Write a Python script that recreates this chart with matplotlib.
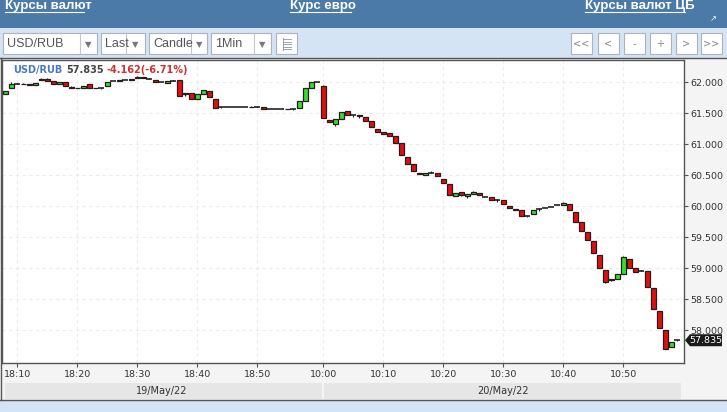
import matplotlib
matplotlib.use("Agg")
import matplotlib.pyplot as plt
from matplotlib.patches import Rectangle, Polygon
from matplotlib.lines import Line2D

# ---------------- data ----------------
opens = [61.80, 61.90, 61.97, 61.97, 61.96, 61.95, 62.03, 62.05, 62.01, 61.97,
         62.00, 61.92, 61.91, 61.91, 61.96, 61.91, 61.90, 61.93, 62.02, 62.02,
         62.03, 62.04, 62.06, 62.08, 62.05, 62.03, 62.00, 61.99, 62.02, 62.03,
         61.80, 61.82, 61.73, 61.80, 61.85, 61.72, 61.59, 61.59, 61.59, 61.59,
         61.59, 61.59, 61.60, 61.60, 61.57, 61.57, 61.57, 61.57, 61.56, 61.58,
         61.70, 61.90, 62.00, 61.94, 61.38, 61.32, 61.41, 61.53, 61.46, 61.46,
         61.44, 61.37, 61.25, 61.20, 61.17, 61.13, 61.01, 60.79, 60.67, 60.54,
         60.50, 60.53, 60.54, 60.44, 60.35, 60.16, 60.22, 60.16, 60.20, 60.21,
         60.14, 60.14, 60.10, 60.10, 60.00, 59.95, 59.94, 59.84, 59.87, 59.95,
         59.97, 59.99, 60.01, 60.02, 60.04, 59.91, 59.74, 59.58, 59.44, 59.21,
         58.96, 58.80, 58.82, 58.91, 59.14, 59.00, 58.95, 58.95, 58.67, 58.31,
         58.00, 57.72, 57.83]
closes = [61.86, 61.97, 61.97, 61.96, 61.95, 61.99, 62.05, 62.02, 61.97, 62.00,
          61.93, 61.91, 61.90, 61.94, 61.91, 61.90, 61.90, 62.00, 62.02, 62.03,
          62.03, 62.05, 62.08, 62.06, 62.05, 62.00, 62.00, 62.02, 62.02, 61.77,
          61.82, 61.73, 61.80, 61.87, 61.76, 61.58, 61.59, 61.59, 61.59, 61.59,
          61.59, 61.60, 61.60, 61.57, 61.57, 61.57, 61.57, 61.56, 61.56, 61.70,
          61.90, 62.00, 62.00, 61.42, 61.35, 61.40, 61.51, 61.47, 61.46, 61.45,
          61.37, 61.27, 61.20, 61.16, 61.13, 61.01, 60.83, 60.67, 60.56, 60.51,
          60.53, 60.53, 60.48, 60.37, 60.17, 60.21, 60.18, 60.20, 60.22, 60.17,
          60.14, 60.10, 60.10, 60.03, 59.96, 59.93, 59.84, 59.84, 59.94, 59.95,
          59.97, 59.99, 60.01, 60.05, 59.94, 59.75, 59.59, 59.45, 59.24, 59.00,
          58.78, 58.82, 58.90, 59.17, 59.00, 58.94, 58.95, 58.70, 58.34, 58.03,
          57.70, 57.80, 57.835]
highs = [61.86, 62.00, 61.98, 61.98, 61.96, 61.99, 62.07, 62.07, 62.01, 62.00,
         62.00, 61.93, 61.91, 61.94, 61.96, 61.91, 61.91, 62.00, 62.02, 62.03,
         62.04, 62.05, 62.09, 62.08, 62.06, 62.03, 62.00, 62.02, 62.03, 62.03,
         61.82, 61.82, 61.80, 61.87, 61.85, 61.72, 61.59, 61.59, 61.59, 61.59,
         61.59, 61.61, 61.61, 61.60, 61.57, 61.57, 61.57, 61.57, 61.56, 61.70,
         61.90, 62.00, 62.00, 61.95, 61.38, 61.40, 61.51, 61.54, 61.47, 61.46,
         61.44, 61.37, 61.25, 61.20, 61.18, 61.13, 61.01, 60.79, 60.67, 60.54,
         60.53, 60.56, 60.54, 60.44, 60.35, 60.21, 60.23, 60.20, 60.25, 60.21,
         60.14, 60.14, 60.11, 60.10, 60.00, 59.95, 59.94, 59.84, 59.94, 59.96,
         59.97, 59.99, 60.01, 60.06, 60.04, 59.91, 59.74, 59.58, 59.44, 59.21,
         58.96, 58.82, 58.90, 59.19, 59.14, 59.00, 58.96, 58.95, 58.67, 58.31,
         58.00, 57.80, 57.84]
lows = [61.80, 61.90, 61.96, 61.96, 61.95, 61.95, 62.03, 62.02, 61.97, 61.97,
        61.93, 61.91, 61.90, 61.91, 61.91, 61.90, 61.89, 61.93, 62.01, 62.02,
        62.03, 62.04, 62.06, 62.06, 62.05, 62.00, 62.00, 61.99, 62.02, 61.77,
        61.78, 61.73, 61.73, 61.80, 61.76, 61.58, 61.58, 61.59, 61.59, 61.59,
        61.59, 61.59, 61.60, 61.57, 61.57, 61.57, 61.57, 61.56, 61.55, 61.58,
        61.70, 61.90, 62.00, 61.42, 61.35, 61.29, 61.41, 61.47, 61.43, 61.42,
        61.37, 61.27, 61.20, 61.16, 61.13, 61.01, 60.83, 60.67, 60.56, 60.51,
        60.50, 60.53, 60.48, 60.37, 60.17, 60.16, 60.16, 60.13, 60.20, 60.17,
        60.14, 60.10, 60.07, 60.03, 59.96, 59.93, 59.84, 59.83, 59.87, 59.92,
        59.97, 59.99, 60.01, 60.02, 59.94, 59.75, 59.59, 59.45, 59.24, 59.00,
        58.76, 58.79, 58.82, 58.91, 59.00, 58.94, 58.95, 58.70, 58.34, 58.03,
        57.70, 57.72, 57.83]

tick_index = [2, 12, 22, 32, 42, 53, 63, 73, 83, 93, 103]
tick_labels = ["18:10", "18:20", "18:30", "18:40", "18:50", "10:00",
               "10:10", "10:20", "10:30", "10:40", "10:50"]
y_ticks = [58.0, 58.5, 59.0, 59.5, 60.0, 60.5, 61.0, 61.5, 62.0]
date_labels = ["19/May/22", "20/May/22"]
symbol = "USD/RUB"
last_price = "57.835"
change_text = "-4.162(-6.71%)"
header_links = ["Курсы валют", "Курс евро", "Курсы валют ЦБ"]
tool_boxes = ["USD/RUB", "Last", "Candle", "1Min"]
nav_buttons = ["<<", "<", "-", "+", ">", ">>"]

# ---------------- figure ----------------
W, H = 727, 412
fig = plt.figure(figsize=(W / 100, H / 100), dpi=100)
fig.patch.set_facecolor("#f4f4f4")

def fx(x):
    return x / W

def fy(y):
    return 1 - y / H

def rect(x0, y0, x1, y1, fc, ec="none", lw=0.0, z=-2):
    fig.patches.append(Rectangle((fx(x0), fy(y1)), (x1 - x0) / W, (y1 - y0) / H,
                                 transform=fig.transFigure, facecolor=fc,
                                 edgecolor=ec, linewidth=lw, zorder=z))

def hline(x0, x1, y, color, lw=1.0, z=-1):
    fig.lines.append(Line2D([fx(x0), fx(x1)], [fy(y), fy(y)], transform=fig.transFigure,
                            color=color, linewidth=lw, zorder=z))

def vline(x, y0, y1, color, lw=1.0, z=-1):
    fig.lines.append(Line2D([fx(x), fx(x)], [fy(y0), fy(y1)], transform=fig.transFigure,
                            color=color, linewidth=lw, zorder=z))

narrow = ["Liberation Sans Narrow", "Liberation Sans", "DejaVu Sans"]

# header bar
rect(0, 0, 727, 28, "#4b7aa9")
hdr_x = [5, 290, 585]
for s, x in zip(header_links, hdr_x):
    fig.text(fx(x), fy(5.5), s, color="white", fontsize=9.5, fontweight="bold",
             family=narrow, va="center", ha="left", zorder=3)
hdr_w = [79, 61, 100]
for x, w in zip(hdr_x, hdr_w):
    hline(x, x + w, 11.5, "white", lw=0.8, z=3)
fig.text(fx(713), fy(19), "\u2197", color="white", fontsize=6, ha="center", va="center")

# toolbar
rect(0, 28, 727, 58, "#d4e4f5")
boxes = [(3, 97, 80), (101, 145, 126), (149, 207, 191), (211, 271, 254)]
for (x0, x1, sep), s in zip(boxes, tool_boxes):
    rect(x0, 33, x1, 54, "white", ec="#a9b4c0", lw=0.8, z=-1)
    vline(sep, 34, 53, "#c0c8d0", lw=0.8, z=0)
    fig.text(fx(x0 + 4), fy(44), s, color="#555555", fontsize=9, family=narrow,
             va="center", ha="left", zorder=4)
    fig.text(fx((sep + x1) / 2), fy(44.5), "\u25BC", color="#777777", fontsize=6,
             va="center", ha="center", zorder=4)
rect(276, 33, 297, 54, "white", ec="#a9b4c0", lw=0.8, z=-1)
for yy in [39, 41.5, 44, 46.5, 49]:
    hline(283, 291, yy, "#8a96a4", lw=0.6, z=0)
vline(282.5, 38, 50, "#8a96a4", lw=0.6, z=0)

btn_x = [571, 598, 624, 650, 676, 701]
for x, s in zip(btn_x, nav_buttons):
    rect(x, 33, x + 21, 54, "white", ec="#a9b4c0", lw=0.8, z=-1)
    fig.text(fx(x + 10.5), fy(44), s, color="#888888", fontsize=7,
             va="center", ha="center", zorder=4)

# chart panel
rect(0, 58, 727, 400, "#f4f4f4", z=-3)
hline(0, 727, 58, "#555555", lw=1.0)
vline(1, 58, 400, "#555555", lw=1.0)
rect(5, 383, 322, 399, "#e6e6e6", z=-1)
rect(324, 383, 681, 399, "#e6e6e6", z=-1)
fig.text(fx(162), fy(391.5), date_labels[0], color="#333333", fontsize=7,
         ha="center", va="center")
fig.text(fx(503), fy(391.5), date_labels[1], color="#333333", fontsize=7,
         ha="center", va="center")
rect(0, 400, 727, 412, "#d4e4f5", z=-2)
hline(0, 727, 400, "#555555", lw=1.0)

# ---------------- axes ----------------
ax = fig.add_axes([fx(2), fy(363), (684 - 2) / W, (363 - 60) / H])
ax.set_zorder(2)
ax.set_facecolor("white")
n = len(opens)
xs = list(range(n))
ax.set_xlim(-0.55, 113.15)
ax.set_ylim(57.468, 62.355)

for yv in y_ticks:
    ax.axhline(yv, color="#ececec", lw=0.8, ls=(0, (3, 3)), zorder=0)
for xv in tick_index:
    ax.axvline(xv, color="#ececec", lw=0.8, ls=(0, (3, 3)), zorder=0)

ax.vlines(xs, lows, highs, color="#222222", lw=0.8, zorder=2)
bw = 0.8
for i in xs:
    o, c = opens[i], closes[i]
    if abs(c - o) < 0.006:
        ax.hlines((o + c) / 2, i - 0.5, i + 0.5, color="#111111",
                  lw=1.1, zorder=3)
    else:
        col = "#2fe02f" if c > o else "#e01010"
        ax.bar(i, abs(c - o), bottom=min(o, c), width=bw, color=col,
               edgecolor="#2a1a1a", linewidth=0.9, zorder=3)

ax.set_xticks(tick_index)
ax.set_xticklabels(tick_labels)
ax.set_yticks(y_ticks)
ax.set_yticklabels(["%.3f" % v for v in y_ticks])
ax.yaxis.tick_right()
ax.tick_params(axis="both", direction="out", length=3, width=0.8, color="#555555",
               labelsize=6.8, labelcolor="#333333", pad=1.5)
ax.tick_params(axis="x", pad=2)
for sp in ax.spines.values():
    sp.set_color("#555555")
    sp.set_linewidth(1.0)

# legend text
fig.text(fx(13), fy(70), symbol, color="#4a78c8", fontsize=7, fontweight="bold",
         va="center", ha="left", zorder=5)
fig.text(fx(66), fy(70), last_price, color="#444444", fontsize=7, fontweight="bold",
         va="center", ha="left", zorder=5)
fig.text(fx(107), fy(70), change_text, color="#cc3333", fontsize=7, fontweight="bold",
         va="center", ha="left", zorder=5)

# last price tag
ypix = 60 + (62.355 - closes[-1]) / (62.355 - 57.468) * 303
tag = Polygon([[fx(685), fy(ypix)], [fx(690), fy(ypix - 6)], [fx(722), fy(ypix - 6)],
               [fx(722), fy(ypix + 6)], [fx(690), fy(ypix + 6)]], closed=True,
              transform=fig.transFigure, facecolor="#1a1a1a", edgecolor="none", zorder=5)
fig.patches.append(tag)
fig.text(fx(706), fy(ypix), last_price, color="white", fontsize=6.8, ha="center",
         va="center", zorder=6)

fig.savefig("out.png", dpi=100)
